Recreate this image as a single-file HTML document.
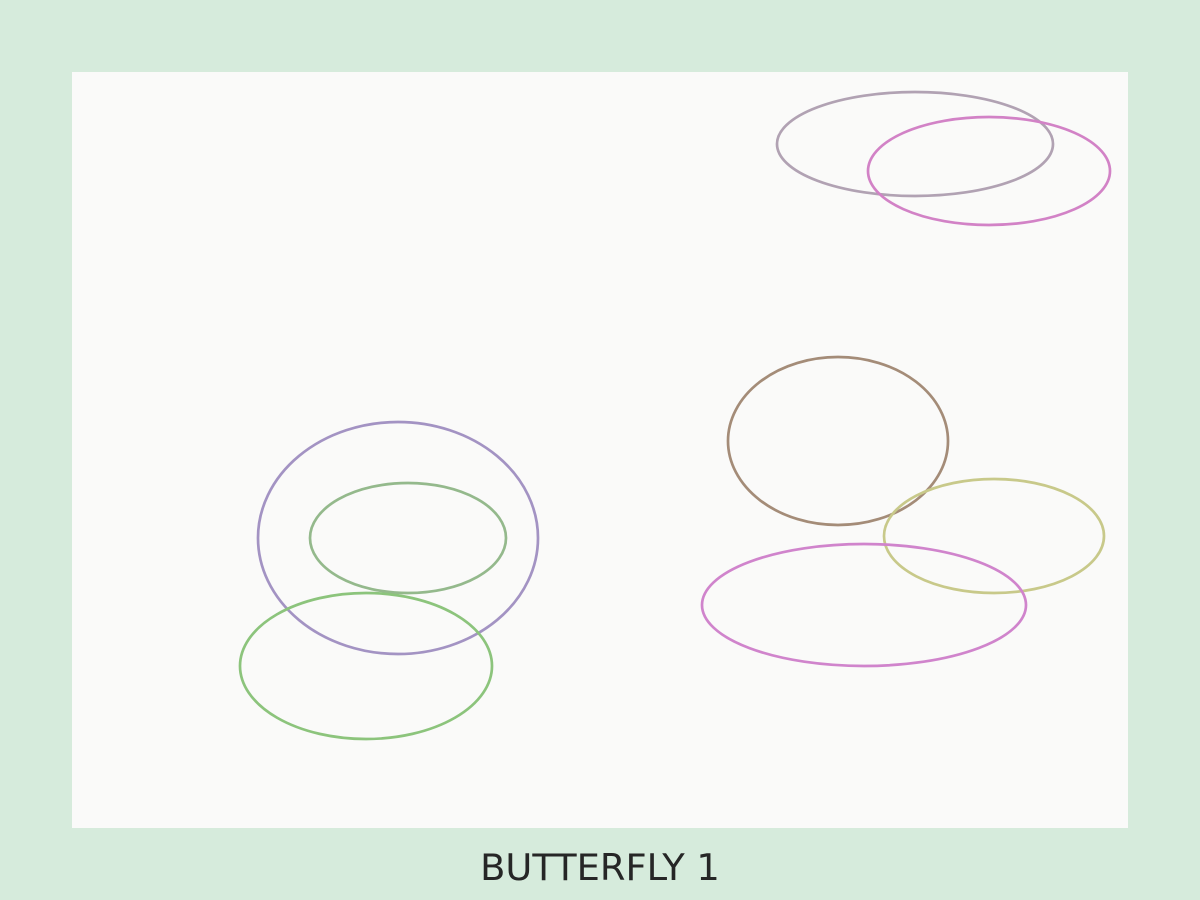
<!DOCTYPE html>
<html>
<head>
<meta charset="utf-8">
<style>
  html, body { margin: 0; padding: 0; }
  body { width: 1200px; height: 900px; background: #d6ebdc; overflow: hidden; font-family: "Liberation Sans", "DejaVu Sans", sans-serif; }
  #chart { position: absolute; left: 0; top: 0; }
</style>
</head>
<body>
<svg id="chart" width="1200" height="900" xmlns="http://www.w3.org/2000/svg">
  <rect x="72" y="72" width="1056" height="756" fill="#fafaf9"/>
  <g id="marks"></g>
  <text x="600" y="880" text-anchor="middle" font-family="DejaVu Sans, Liberation Sans, sans-serif" font-size="36.8" fill="#262626">BUTTERFLY 1</text>
</svg>
<script>
const names = ["gray", "pink", "brown", "olive", "magenta", "purple", "green-inner", "green"];
const centerX = [843, 917, 766, 922, 792, 326, 336, 294];
const centerY = [72, 99, 369, 464, 533, 466, 466, 594];
const radiusX = [138, 121, 110, 110, 162, 140, 98, 126];
const radiusY = [52, 54, 84, 57, 61, 116, 55, 73];
const colors = ["#b1a2b3", "#d282c6", "#a48c78", "#c8c98a", "#d084cc", "#a393c3", "#94b98c", "#8cc47c"];

const X0 = 72, Y0 = 72;
function xScale(v) { return X0 + v; }
function yScale(v) { return Y0 + v; }
function sizeScale(v) { return v; }

const g = document.getElementById('marks');
for (let i = 0; i < names.length; i++) {
  const el = document.createElementNS('http://www.w3.org/2000/svg', 'ellipse');
  el.setAttribute('cx', xScale(centerX[i]));
  el.setAttribute('cy', yScale(centerY[i]));
  el.setAttribute('rx', sizeScale(radiusX[i]));
  el.setAttribute('ry', sizeScale(radiusY[i]));
  el.setAttribute('fill', 'none');
  el.setAttribute('stroke', colors[i]);
  el.setAttribute('stroke-width', '2.7');
  
  
  g.appendChild(el);
}
</script>
</body>
</html>
